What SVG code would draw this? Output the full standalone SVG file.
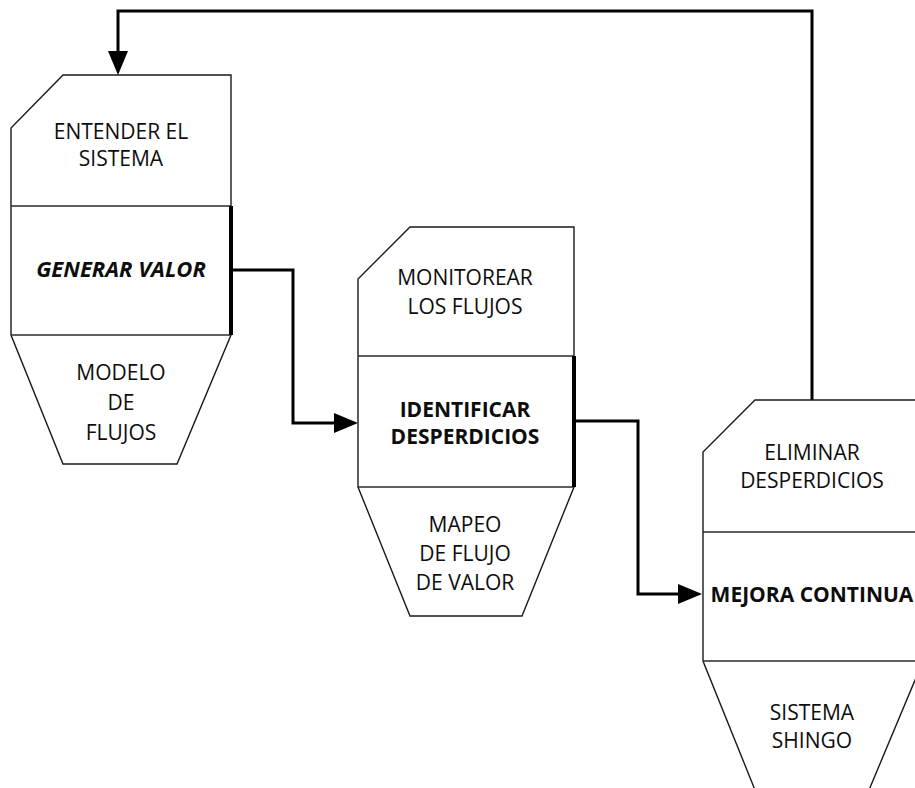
<svg xmlns="http://www.w3.org/2000/svg" width="915" height="788" viewBox="0 0 915 788">
  <style>
    .outline { fill: #ffffff; stroke: #1a1a1a; stroke-width: 1.4; stroke-linejoin: miter; }
    .divider { stroke: #2a2a2a; stroke-width: 1.3; fill: none; }
    .edge { stroke: #000000; stroke-width: 4; fill: none; }
    .link { stroke: #000000; stroke-width: 3; fill: none; stroke-linejoin: miter; }
    .t { font-family: "Open Sans", "Liberation Sans", sans-serif; font-size: 21px; fill: #0d0d0d; text-anchor: middle; }
    .b { font-weight: bold; }
    .bi { font-weight: bold; font-style: italic; font-size: 22px; }
  </style>
  <defs>
    <marker id="arrow" markerUnits="userSpaceOnUse" viewBox="0 0 24 20" markerWidth="24" markerHeight="20" refX="16" refY="10" orient="auto">
      <path d="M0,0 L24,10 L0,20 Z" fill="#000000"/>
    </marker>
  </defs>

  <rect width="915" height="788" fill="#ffffff"/>

  <!-- connectors -->
  <g id="connectors">
    <path class="link" d="M231,270 H293 V423 H350" marker-end="url(#arrow)"/>
    <path class="link" d="M574,421 H638 V594 H694" marker-end="url(#arrow)"/>
    <path class="link" d="M812,400 V11 H118 V67" marker-end="url(#arrow)"/>
  </g>

  <!-- stage 1 -->
  <g id="node-entender">
    <path class="outline" d="M63,75 H231 V335 L177,464 H63 L11,335 V128 Z"/>
    <line class="divider" x1="11" y1="206" x2="231" y2="206"/>
    <line class="divider" x1="11" y1="335" x2="231" y2="335"/>
    <line class="edge" x1="231" y1="206" x2="231" y2="335"/>
    <text class="t" x="121" y="139">ENTENDER EL</text>
    <text class="t" x="121" y="166">SISTEMA</text>
    <text class="t bi" x="121" y="277">GENERAR VALOR</text>
    <text class="t" x="121" y="380">MODELO</text>
    <text class="t" x="121" y="410">DE</text>
    <text class="t" x="121" y="440">FLUJOS</text>
  </g>

  <!-- stage 2 -->
  <g id="node-monitorear">
    <path class="outline" d="M410,227 H574 V487 L522,616 H410 L358,487 V279 Z"/>
    <line class="divider" x1="358" y1="356" x2="574" y2="356"/>
    <line class="divider" x1="358" y1="487" x2="574" y2="487"/>
    <line class="edge" x1="574" y1="356" x2="574" y2="487"/>
    <text class="t" x="465" y="285">MONITOREAR</text>
    <text class="t" x="465" y="314">LOS FLUJOS</text>
    <text class="t b" x="465" y="417">IDENTIFICAR</text>
    <text class="t b" x="465" y="444">DESPERDICIOS</text>
    <text class="t" x="465" y="532">MAPEO</text>
    <text class="t" x="465" y="561">DE FLUJO</text>
    <text class="t" x="465" y="590">DE VALOR</text>
  </g>

  <!-- stage 3 -->
  <g id="node-eliminar">
    <path class="outline" d="M755,400 H923 V661 L869,790 H755 L703,661 V452 Z"/>
    <line class="divider" x1="703" y1="532" x2="923" y2="532"/>
    <line class="divider" x1="703" y1="661" x2="923" y2="661"/>
    <text class="t" x="812" y="460">ELIMINAR</text>
    <text class="t" x="812" y="488">DESPERDICIOS</text>
    <text class="t b" x="812" y="602">MEJORA CONTINUA</text>
    <text class="t" x="812" y="720">SISTEMA</text>
    <text class="t" x="812" y="748">SHINGO</text>
  </g>
</svg>
